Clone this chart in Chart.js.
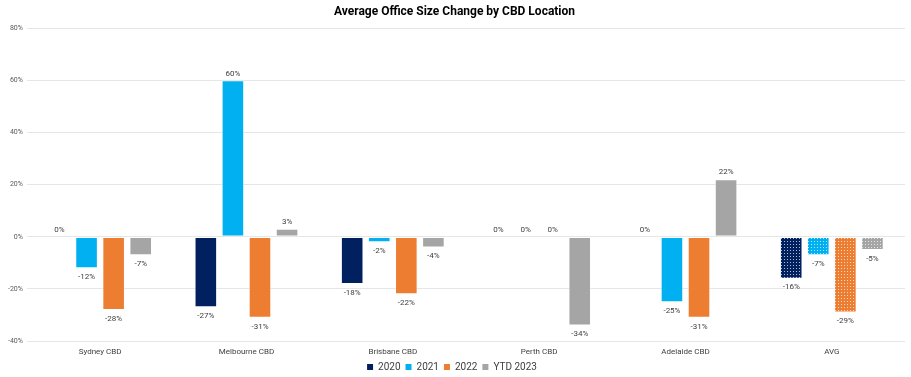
<!DOCTYPE html>
<html><head><meta charset="utf-8">
<script src="https://cdn.jsdelivr.net/npm/chart.js@4/dist/chart.umd.min.js"></script>
<style>html,body{margin:0;padding:0;background:#fff}#wrap{width:911px;height:377px}</style>
</head><body><div id="wrap"><canvas id="c" width="911" height="377"></canvas></div>
<script>
const categories = ["Sydney CBD","Melbourne CBD","Brisbane CBD","Perth CBD","Adelaide CBD","AVG"];
const seriesNames = ["2020","2021","2022","YTD 2023"];
const values2020 = [0,-27,-18,0,0,-16];
const values2021 = [-12,60,-2,0,-25,-7];
const values2022 = [-28,-31,-22,0,-31,-29];
const valuesYTD2023 = [-7,3,-4,-34,22,-5];
const yTicks = [-40,-20,0,20,40,60,80];
const colors = ["#002060","#00B0F0","#ED7D31","#A5A5A5"];

function dotPattern(color){
  const p=document.createElement('canvas');p.width=3;p.height=3;
  const g=p.getContext('2d');g.fillStyle=color;g.fillRect(0,0,3,3);
  g.fillStyle='rgba(255,255,255,0.7)';g.fillRect(1,1,1,1);
  return document.createElement('canvas').getContext('2d').createPattern(p,'repeat');
}
const allSeries=[values2020,values2021,values2022,valuesYTD2023];
const datasets=allSeries.map((vals,i)=>{
  const pat=dotPattern(colors[i]);
  return {label:seriesNames[i],data:vals,
    backgroundColor:vals.map((v,j)=>j===categories.length-1?pat:colors[i]),
    borderColor:'rgba(255,255,255,0.6)',borderWidth:0.8,borderSkipped:false,
    categoryPercentage:0.74,barPercentage:0.82};
});
const labelPlugin={id:'lbl',
  afterLayout(chart){
    const L=chart.legend; if(!L) return;
    const h=L.bottom-L.top; L.top=chart.height-15; L.bottom=L.top+h;
  },
  afterDatasetsDraw(chart){
  const ctx=chart.ctx;ctx.save();
  ctx.font='8px Roboto, sans-serif';ctx.fillStyle='#404040';ctx.textAlign='center';
  chart.data.datasets.forEach((ds,di)=>{
    chart.getDatasetMeta(di).data.forEach((bar,j)=>{
      const v=ds.data[j];
      if(v<0){ctx.textBaseline='top';ctx.fillText(v+'%',bar.x,bar.y+5);}
      else{ctx.textBaseline='bottom';ctx.fillText(v+'%',bar.x,bar.y-3);}
    });
  });
  ctx.restore();
}};
new Chart(document.getElementById('c'),{
  type:'bar',
  data:{labels:categories,datasets},
  options:{responsive:false,animation:false,
    layout:{padding:{left:4,right:6,top:0,bottom:0}},
    plugins:{
      title:{display:true,text:'Average Office Size Change by CBD Location',
        font:{family:'Roboto',size:12,weight:'bold'},color:'#000',padding:{top:5,bottom:9}},
      legend:{position:'bottom',labels:{boxWidth:6,boxHeight:6,padding:0,color:'#404040',
        font:{family:'Roboto',size:10},generateLabels(chart){
          const items=Chart.defaults.plugins.legend.labels.generateLabels(chart);
          items.forEach((it,i)=>{it.fillStyle=colors[i];it.strokeStyle=colors[i];it.lineWidth=0;it.text=it.text+'  ';});
          return items;}}},
      tooltip:{enabled:false}
    },
    scales:{
      x:{grid:{display:false,drawTicks:false},border:{display:false},
        afterFit(s){s.height=16;},
        ticks:{color:'#404040',font:{family:'Roboto',size:8},padding:6}},
      y:{min:-40,max:80,
        afterBuildTicks(ax){ax.ticks=yTicks.map(v=>({value:v}));},
        grid:{color:'#E6E6E6',drawTicks:false},border:{display:false},
        ticks:{color:'#595959',font:{family:'Roboto',size:7},padding:4,callback:v=>v+'%'}}
    }
  },
  plugins:[labelPlugin]
});
</script></body></html>
